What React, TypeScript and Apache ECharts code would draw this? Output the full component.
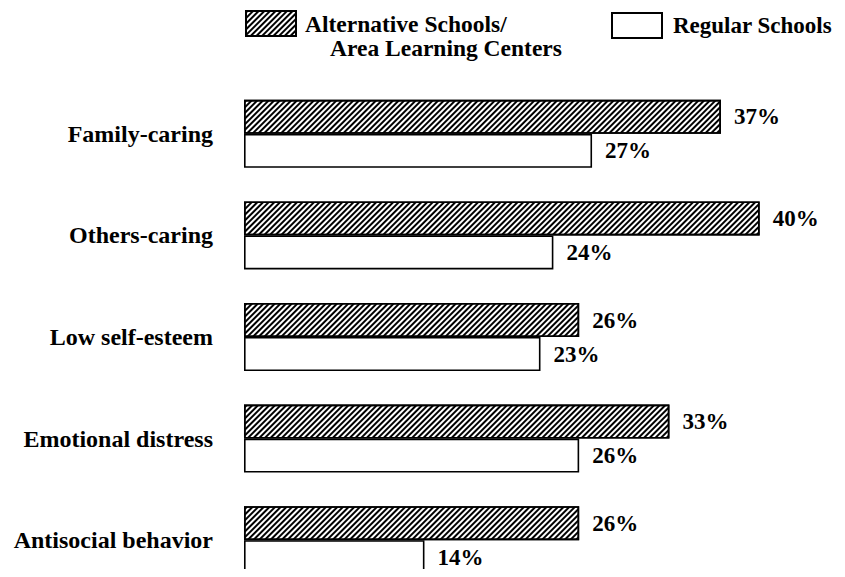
import React, { useEffect, useRef } from "react";
import * as echarts from "echarts";

const categories = [
  "Family-caring",
  "Others-caring",
  "Low self-esteem",
  "Emotional distress",
  "Antisocial behavior",
];
const altSchools = [37, 40, 26, 33, 26];
const regularSchools = [27, 24, 23, 26, 14];
const altName = "Alternative Schools/";
const altName2 = "Area Learning Centers";
const regName = "Regular Schools";

const FONT = "'Liberation Serif', 'Times New Roman', serif";

export default function App() {
  const ref = useRef<HTMLDivElement>(null);
  useEffect(() => {
    if (!ref.current) return;
    const chart = echarts.init(ref.current, null, { renderer: "svg" });
    const labelStyle = {
      show: true,
      position: "right" as const,
      distance: 13,
      formatter: "{c}%",
      fontFamily: FONT,
      fontWeight: "bold" as const,
      fontSize: 23,
      color: "#000",
    };
    chart.setOption({
      animation: false,
      backgroundColor: "#fff",
      legend: [
        {
          data: [altName],
          left: 245,
          top: 10,
          itemWidth: 50,
          itemHeight: 25,
          icon: "rect",
          selectedMode: false,
          padding: 0,
          textStyle: {
            fontFamily: FONT,
            fontWeight: "bold",
            fontSize: 23.5,
            color: "#000",
            padding: [0, 0, 0, 4],
          },
        },
        {
          data: [regName],
          left: 611,
          top: 12,
          itemWidth: 50,
          itemHeight: 25,
          icon: "rect",
          selectedMode: false,
          padding: 0,
          textStyle: {
            fontFamily: FONT,
            fontWeight: "bold",
            fontSize: 23,
            color: "#000",
            padding: [0, 0, 0, 6],
          },
        },
      ],
      graphic: [
        {
          type: "text",
          left: 330,
          top: 36,
          style: {
            text: altName2,
            fontFamily: FONT,
            fontWeight: "bold",
            fontSize: 23.5,
            fill: "#000",
          },
        },
      ],
      grid: {
        left: 244,
        width: 593,
        top: 83,
        height: 508,
        outerBoundsMode: "none",
      },
      xAxis: {
        type: "value",
        min: 0,
        max: 46,
        show: false,
      },
      yAxis: {
        type: "category",
        data: categories,
        inverse: true,
        axisLine: { show: false },
        axisTick: { show: false },
        splitLine: { show: false },
        axisLabel: {
          margin: 31,
          fontFamily: FONT,
          fontWeight: "bold",
          fontSize: 24,
          color: "#000",
        },
      },
      series: [
        {
          name: altName,
          type: "bar",
          data: altSchools,
          barWidth: 34,
          barGap: "0%",
          itemStyle: {
            color: "#fff",
            borderColor: "#000",
            borderWidth: 1.6,
            decal: {
              symbol: "rect",
              symbolSize: 1,
              color: "#000",
              backgroundColor: "#fff",
              dashArrayX: [1, 0],
              dashArrayY: [1.4, 1.6],
              rotation: -Math.PI / 4,
            },
          },
          label: labelStyle,
        },
        {
          name: regName,
          type: "bar",
          data: regularSchools,
          barWidth: 34,
          itemStyle: {
            color: "#fff",
            borderColor: "#000",
            borderWidth: 1.6,
          },
          label: labelStyle,
        },
      ],
    });
    return () => chart.dispose();
  }, []);
  return <div ref={ref} style={{ width: 845, height: 577, margin: -8 }} />;
}
